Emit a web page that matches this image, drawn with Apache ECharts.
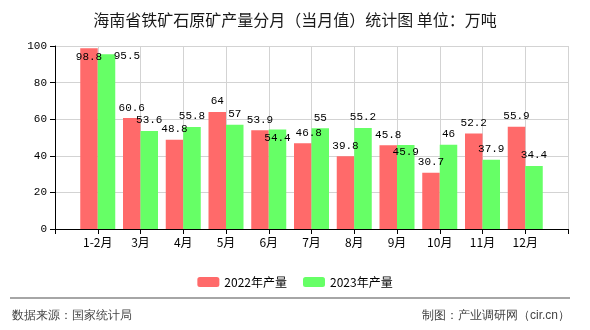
<!DOCTYPE html>
<html>
<head>
<meta charset="utf-8">
<script src="https://cdn.jsdelivr.net/npm/echarts@6/dist/echarts.min.js"></script>
<style>html,body{margin:0;padding:0;background:#fff}#c{width:590px;height:330px}</style>
</head>
<body>
<div id="c"></div>
<script>
const categories = ['1-2月','3月','4月','5月','6月','7月','8月','9月','10月','11月','12月'];
const yTicks = [0, 20, 40, 60, 80, 100];
const values2022 = [98.8, 60.6, 48.8, 64, 53.9, 46.8, 39.8, 45.8, 30.7, 52.2, 55.9];
const values2023 = [95.5, 53.6, 55.8, 57, 54.4, 55, 55.2, 45.9, 46, 37.9, 34.4];
const seriesNames = ['2022年产量', '2023年产量'];
const titleText = '海南省铁矿石原矿产量分月（当月值）统计图 单位：万吨';
const sourceText = '数据来源：国家统计局';
const makerText = '制图：产业调研网（cir.cn）';

const numFont = '"Liberation Mono", "DejaVu Sans Mono", monospace';
const cjkFont = '"Noto Sans CJK SC", sans-serif';

// label overrides (styling only)
const override2022 = {0: {position: 'insideTop', distance: 3}, 5: {offset: [6, 0]}};
const override2023 = {0: {position: [16, -4]}, 4: {position: 'insideTop', distance: 3}, 7: {position: 'insideTop', distance: 2}};

function buildData(vals, ov) {
  const d = ['-'];
  vals.forEach((v, i) => {
    if (ov[i]) d.push({value: v, label: ov[i]});
    else d.push(v);
  });
  d.push('-');
  return d;
}

const chart = echarts.init(document.getElementById('c'), null, {renderer: 'canvas'});
chart.setOption({
  animation: false,
  backgroundColor: '#fff',
  title: {
    text: titleText, left: 'center', top: 7,
    textStyle: {fontSize: 16, fontWeight: 'normal', color: '#1a1a1a', fontFamily: cjkFont}
  },
  legend: {
    data: seriesNames, left: 'center', top: 271,
    itemWidth: 22, itemHeight: 10, itemGap: 16,
    textStyle: {fontSize: 12, color: '#000', fontFamily: cjkFont}
  },
  grid: {left: 55, right: 22, top: 46, bottom: 101, containLabel: false},
  xAxis: {
    type: 'category',
    boundaryGap: false,
    data: [''].concat(categories, ['']),
    axisLine: {lineStyle: {color: '#000', width: 1}},
    axisTick: {show: true, interval: 0, length: 5, lineStyle: {color: '#000'}},
    axisLabel: {interval: 0, color: '#000', fontSize: 12, fontFamily: cjkFont, margin: 7},
    splitLine: {show: true, interval: 0, lineStyle: {color: '#d3d3d3', width: 1}}
  },
  yAxis: {
    type: 'value',
    min: yTicks[0], max: yTicks[yTicks.length - 1], interval: 20,
    axisLine: {show: true, lineStyle: {color: '#000', width: 1}},
    axisTick: {show: true, length: 5, lineStyle: {color: '#000'}},
    axisLabel: {color: '#000', fontSize: 11, fontFamily: numFont, margin: 8},
    splitLine: {show: true, lineStyle: {color: '#d3d3d3', width: 1}}
  },
  series: [
    {
      name: seriesNames[0], type: 'bar', barWidth: 17.5, barGap: '0%',
      itemStyle: {color: '#ff6a6a'},
      label: {show: true, position: 'top', distance: 5, color: '#000', fontSize: 11, fontFamily: numFont},
      data: buildData(values2022, override2022)
    },
    {
      name: seriesNames[1], type: 'bar', barWidth: 17.5, barGap: '0%',
      itemStyle: {color: '#66ff66'},
      label: {show: true, position: 'top', distance: 5, color: '#000', fontSize: 11, fontFamily: numFont},
      data: buildData(values2023, override2023)
    }
  ],
  graphic: [
    {type: 'line', shape: {x1: 10, y1: 298, x2: 570, y2: 298}, style: {stroke: '#888', lineWidth: 1.5}},
    {type: 'text', left: 12, top: 310, style: {text: sourceText, fontSize: 12, fill: '#444', font: '12px ' + cjkFont}},
    {type: 'text', right: 20, top: 310, style: {text: makerText, fontSize: 12, fill: '#444', font: '12px ' + cjkFont}}
  ]
});
</script>
</body>
</html>
